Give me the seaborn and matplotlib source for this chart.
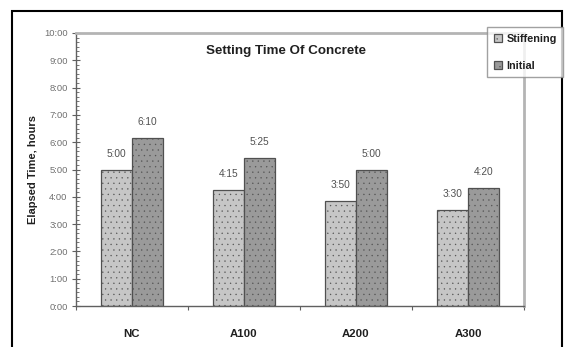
import matplotlib
matplotlib.use("Agg")
import matplotlib.pyplot as plt
import matplotlib.ticker as mticker
from matplotlib.patches import Rectangle
import seaborn as sns
import pandas as pd

# Setting-time data (hours)
mixes = ["NC", "A100", "A200", "A300"]
stiffening = [5.0, 4.25, 23 / 6, 3.5]      # 5:00, 4:15, 3:50, 3:30
initial = [37 / 6, 65 / 12, 5.0, 13 / 3]   # 6:10, 5:25, 5:00, 4:20
series_names = ["Stiffening", "Initial"]

df = pd.DataFrame({
    "mix": mixes * 2,
    "hours": stiffening + initial,
    "stage": [series_names[0]] * 4 + [series_names[1]] * 4,
})

sns.set_theme(style="white")
plt.rcParams["font.family"] = ["Liberation Sans", "DejaVu Sans"]
plt.rcParams["hatch.linewidth"] = 0.2

W, H = 566, 347
fig = plt.figure(figsize=(W / 100, H / 100), dpi=100)
fig.patch.set_facecolor("white")

# plot area in pixels: x 76..524, y 33..306
ax = fig.add_axes([76 / W, 1 - 306 / H, (524 - 76) / W, (306 - 33) / H])

sns.barplot(data=df, x="mix", y="hours", hue="stage",
            palette=["#c6c6c6", "#9a9a9a"], width=0.56, gap=0,
            edgecolor="#505050", linewidth=0.9, ax=ax)

for bar in ax.patches:
    bar.set_hatch("...")

handles, labels = ax.get_legend_handles_labels()
ax.legend_.remove()

ax.set_ylim(0, 10)
ax.set_xlim(-0.5, 3.5)


def hm(v, pos=None):
    total = int(round(v * 60))
    return f"{total // 60}:{total % 60:02d}"


ax.yaxis.set_major_locator(mticker.MultipleLocator(1))
ax.yaxis.set_minor_locator(mticker.MultipleLocator(1 / 6))
ax.yaxis.set_major_formatter(mticker.FuncFormatter(hm))
ax.tick_params(axis="y", which="major", direction="inout", length=6, width=0.8,
               color="#606060", labelsize=6.8, labelcolor="#707070", pad=3, left=True)
ax.tick_params(axis="y", which="minor", direction="in", length=2.5, width=0.6,
               color="#606060", left=True)

ax.xaxis.set_minor_locator(mticker.FixedLocator([-0.5, 0.5, 1.5, 2.5, 3.5]))
ax.tick_params(axis="x", which="major", length=0, labelsize=8.2, pad=16.5)
ax.tick_params(axis="x", which="minor", direction="out", length=3, width=0.8,
               color="#606060", bottom=True)
for lab in ax.get_xticklabels():
    lab.set_fontweight("bold")
    lab.set_color("#202020")

ax.set_xlabel("")
ax.set_ylabel("Elapsed Time, hours", fontsize=8, fontweight="bold",
              color="#202020", labelpad=4)

for side in ("top", "right"):
    ax.spines[side].set_color("#b4b4b4")
    ax.spines[side].set_linewidth(2)
for side in ("left", "bottom"):
    ax.spines[side].set_color("#606060")
    ax.spines[side].set_linewidth(1)

# value labels above bars
for container in ax.containers:
    for bar, v in zip(container, container.datavalues):
        ax.annotate(hm(v), (bar.get_x() + bar.get_width() / 2, v),
                    xytext=(0, 11.5), textcoords="offset points",
                    ha="center", va="center", fontsize=7.3, color="#505050")

ax.text(0.469, 0.934, "Setting Time Of Concrete", transform=ax.transAxes,
        ha="center", va="center", fontsize=9.6, fontweight="bold", color="#202020")

leg = fig.legend(handles, labels, loc="upper left",
                 bbox_to_anchor=(487 / W, 1 - 27 / H), borderaxespad=0,
                 fontsize=7.8, handlelength=0.8, handleheight=0.8,
                 handletextpad=0.4, labelspacing=1.6, borderpad=0.6,
                 frameon=True, fancybox=False)
leg.get_frame().set_edgecolor("#8a8a8a")
leg.get_frame().set_linewidth(1)
for t in leg.get_texts():
    t.set_fontweight("bold")
    t.set_color("#202020")

# outer chart border
fig.add_artist(Rectangle((11.5 / W, -0.2), (562 - 11.5) / W, 1.2 - 10.5 / H,
                         transform=fig.transFigure, fill=False,
                         edgecolor="black", linewidth=1.5))

fig.savefig("out.png", dpi=100, facecolor="white")
